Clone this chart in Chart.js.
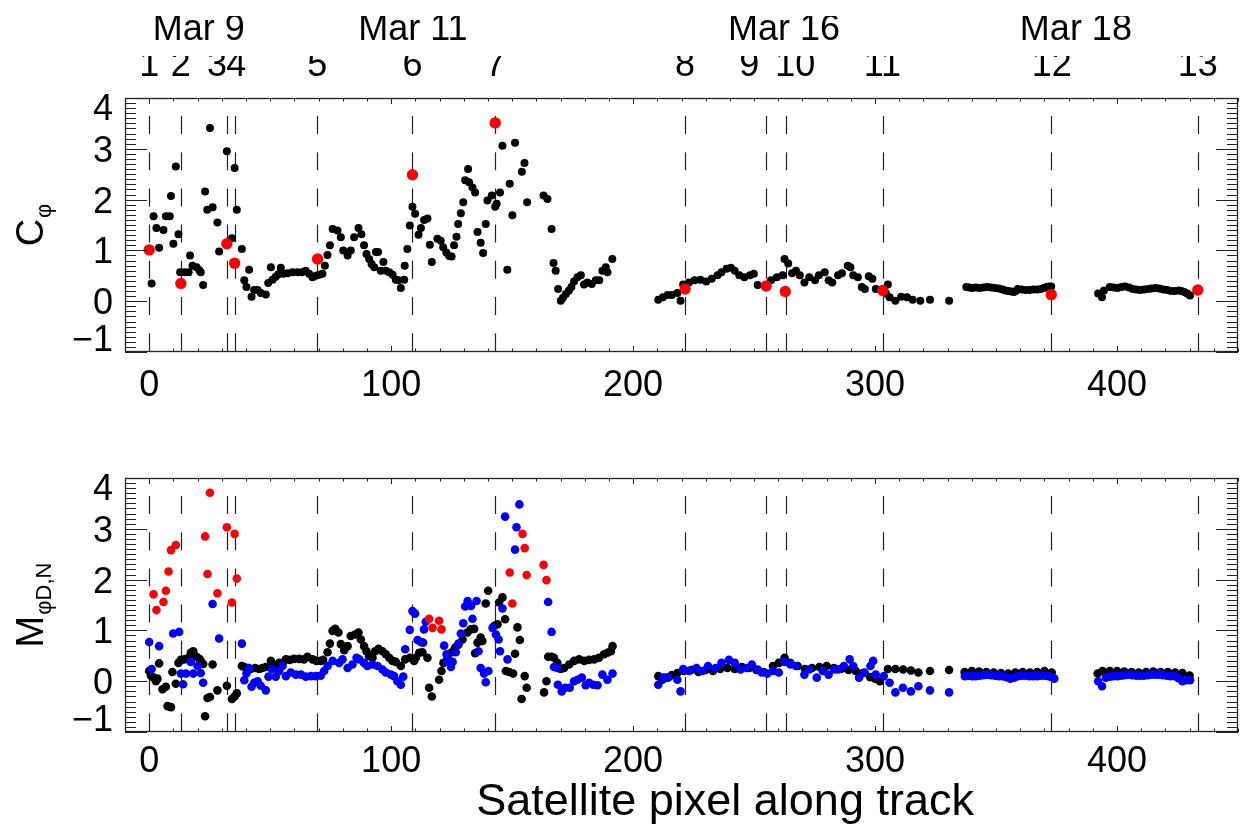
<!DOCTYPE html>
<html>
<head>
<meta charset="utf-8">
<script src="https://cdn.jsdelivr.net/npm/chart.js@4.4.1/dist/chart.umd.min.js"></script>
<style>
  html, body { margin: 0; padding: 0; background: #fff; }
  #wrap { position: relative; width: 1249px; height: 832px; }
  #topBox { position: absolute; left: 0; top: 0; width: 1249px; height: 415px; }
  #botBox { position: absolute; left: 0; top: 415px; width: 1249px; height: 417px; }
</style>
</head>
<body>
<div id="wrap">
  <div id="topBox"><canvas id="cphiChart"></canvas></div>
  <div id="botBox"><canvas id="mChart"></canvas></div>
</div>
<script>
// ---- datos ----
// eventos (lineas discontinuas) y sus etiquetas arriba
const eventX = [0, 13.1, 32.1, 35.3, 69.5, 108.8, 143, 221.5, 255, 263, 303.2, 372.8, 433.4];
const eventNames = ['1', '2', '3', '4', '5', '6', '7', '8', '9', '10', '11', '12', '13'];
const eventLabelX = [0, 13, 28, 36, 69.5, 108.8, 143, 221.5, 248, 267, 303, 373, 433.4];
const dayNames = ['Mar 9', 'Mar 11', 'Mar 16', 'Mar 18'];
const dayX = [20.5, 109, 262.4, 383];
const xTicks = [0, 100, 200, 300, 400];
const yTicks = [-1, 0, 1, 2, 3, 4];
const xTitle = 'Satellite pixel along track';

// panel superior: C_phi
const cphiBlack = [
  [1,0.35],[1.8,1.67],[3,1.44],[4.1,1.05],[5.9,1.40],[6.9,1.67],[8.5,1.67],[9,2.07],[10,1.13],[11,2.65],
  [12.1,1.32],[12.8,0.57],[14.5,0.57],[16.3,0.57],[16.9,0.9],[17.9,0.70],[19.6,0.67],[20.7,0.61],[21.3,0.57],[22.3,0.32],
  [23.1,2.16],[24,1.80],[25.1,3.41],[26.2,1.85],[28.2,1.55],[28.9,0.98],[32.1,2.95],[34.2,1.24],[35.3,2.62],[36.2,1.80],
  [38.3,1.03],[39.3,0.41],[40.2,0.28],[41.3,0.62],[42.3,0.09],[43.4,0.22],[44.8,0.22],[46.1,0.16],[48.2,0.13],[49.2,0.36],
  [50.3,0.67],[51,0.42],[52.3,0.48],[53.4,0.53],[54.4,0.66],[55.4,0.54],[57.2,0.55],[59.2,0.57],[61.3,0.57],[63.1,0.57],
  [64.7,0.60],[66.1,0.54],[67.5,0.47],[68.9,0.50],[70.2,0.52],[71.6,0.54],[72.6,0.70],[73.7,0.91],[74.7,1.10],[75.8,1.42],
  [77.8,1.39],[79.2,1.26],[80.2,1.0],[82,0.90],[83.3,1.0],[84.7,1.26],[86.5,1.44],[87.7,1.32],[88.8,1.10],[89.8,0.93],
  [90.9,0.83],[91.9,0.73],[93,0.67],[93.7,0.97],[94.6,0.97],[95.7,0.60],[96.8,0.77],[97.8,0.60],[99.2,0.57],[100.6,0.52],
  [101.9,0.42],[103,0.41],[104,0.26],[105.4,0.42],[105.6,0.70],[106.7,1.03],[107.7,1.49],[108.8,1.86],[109.9,1.72],[111.3,1.31],
  [112.3,1.44],[113.6,1.60],[115,1.63],[116,1.11],[116.8,0.77],[119.1,1.23],[120.5,1.19],[121.5,1.06],[122.8,0.96],[124,0.89],
  [125,0.88],[126,1.10],[127,1.27],[127.7,1.52],[128.8,1.73],[129.8,1.95],[130.6,2.38],[131.8,2.60],[132.2,2.34],[133.6,2.24],
  [134.7,2.14],[135.7,1.36],[137,1.15],[138,0.95],[139.1,1.52],[139.8,1.98],[141.6,2.08],[143,1.86],[143.6,1.92],[145,2.14],
  [146,3.06],[148,0.62],[149,2.31],[150.1,1.69],[151.2,3.12],[154,2.55],[155.1,2.72],[156.2,1.95],[163,2.08],[164.6,2.01],
  [166.3,1.42],[167.1,0.75],[168,0.60],[169,0.24],[170.1,0.01],[171,0.07],[172.2,0.14],[173.5,0.21],[174.5,0.28],[175.6,0.39],
  [177,0.47],[178.4,0.51],[179.7,0.33],[181.1,0.37],[182.9,0.34],[184.6,0.41],[186,0.41],[187.3,0.60],[188.7,0.67],[189.4,0.57],
  [191.4,0.83],[210.4,0.03],[212.3,0.08],[214.3,0.12],[216,0.12],[218.3,0.16],[219.6,0.01],[220.7,0.33],[223.1,0.37],[225.4,0.41],
  [227.8,0.42],[230.2,0.39],[232.5,0.44],[234.9,0.51],[236.5,0.57],[238.6,0.64],[240.4,0.66],[242,0.60],[243.9,0.51],[246,0.47],
  [248.3,0.51],[249.9,0.54],[251.5,0.32],[257,0.41],[259.4,0.47],[261.8,0.51],[262.6,0.83],[264.1,0.74],[265.7,0.55],[267.3,0.60],
  [268.9,0.51],[270.8,0.37],[272.8,0.47],[275.2,0.41],[276.8,0.51],[279.2,0.57],[280.8,0.41],[282.3,0.37],[284.7,0.51],[286.3,0.55],
  [288.7,0.70],[289.8,0.67],[291,0.51],[292.9,0.47],[294.5,0.28],[295.8,0.24],[297.4,0.49],[298.9,0.44],[300.3,0.24],[304.5,0.15],
  [305.3,0.33],[306,0.08],[308.4,0.01],[310.8,0.09],[313.2,0.08],[315.5,0.03],[318.7,0.01],[322.7,0.03],[330.6,0.01],
  [337.7,0.28],[338.9,0.27],[340.1,0.26],[341.6,0.27],[343.2,0.26],[344.8,0.27],[346.4,0.28],[348,0.27],[349.6,0.26],[351.2,0.25],
  [352.7,0.23],[353.9,0.21],[355.1,0.20],[356.3,0.19],[357.4,0.18],[358.2,0.2],[359,0.24],[360.6,0.23],[362.2,0.22],[363.8,0.22],
  [365.4,0.23],[367,0.23],[368.5,0.24],[369.7,0.26],[370.9,0.28],[371.8,0.29],[372.8,0.29],
  [392.2,0.15],[393.8,0.08],[394.6,0.21],[397,0.28],[398.6,0.27],[400.2,0.26],[401.8,0.28],[403.3,0.29],[404.9,0.27],[406.5,0.24],
  [408,0.23],[409.6,0.22],[411.2,0.23],[412.8,0.24],[414.3,0.25],[415.9,0.26],[417.5,0.25],[419.1,0.23],[420.7,0.22],[422.3,0.20],
  [423.9,0.2],[425.5,0.21],[426.6,0.2],[427.8,0.18],[429,0.15],[430.2,0.11]
];
const cphiRed = [
  [0,1.01],[13.1,0.35],[32.1,1.13],[35.3,0.75],[69.6,0.83],[108.8,2.49],[143,3.51],
  [221.5,0.24],[255,0.30],[262.9,0.19],[303.2,0.21],[372.8,0.13],[433.4,0.22]
];

// panel inferior: M_phiD,N
const mBlack = [
  [0,0.20],[0.7,0.11],[1.8,0.07],[2.8,0.0],[3.4,0.05],[4.1,0.35],[5.5,-0.16],[6.9,-0.11],[7.6,-0.49],[9,-0.51],
  [9.6,0.18],[11,-0.05],[12.1,0.36],[13.1,0.42],[14.5,0.43],[16.3,0.46],[17.2,0.56],[18.2,0.59],[19.3,0.49],[20.7,0.44],
  [21.3,0.40],[22.3,0.34],[23.1,-0.69],[24.1,-0.33],[25.1,-0.31],[26.2,0.33],[28.2,-0.18],[32.1,-0.09],[34.2,-0.35],[35.3,-0.30],
  [36.2,-0.24],[38.3,0.30],[39.3,0.28],[40.6,0.26],[42,0.24],[43.8,0.26],[45.5,0.24],[46.8,0.26],[48.2,0.28],[50.3,0.40],
  [52.3,0.31],[53.7,0.36],[55.1,0.36],[56.5,0.43],[58.1,0.42],[59.9,0.44],[62,0.44],[64,0.43],[65.4,0.48],[67.5,0.43],
  [69.1,0.40],[70.9,0.40],[71.9,0.42],[73.7,0.57],[74.7,0.74],[75.8,0.99],[76.9,1.03],[78.2,0.96],[79.2,0.73],[80.6,0.61],
  [82,0.69],[83.3,0.89],[85.1,0.92],[86.5,0.96],[87.5,0.82],[88.8,0.69],[89.8,0.59],[90.9,0.49],[92.3,0.46],[93.4,0.59],
  [94.8,0.64],[96.4,0.59],[97.8,0.53],[99.2,0.46],[100.6,0.40],[101.9,0.38],[104,0.30],[105.8,0.43],[107.7,0.46],[109.5,0.40],
  [110.2,0.46],[111.6,0.56],[112.9,0.57],[115,0.46],[115.7,-0.13],[116.8,-0.30],[119.8,0.03],[120.8,0.20],[121.6,0.36],[123.3,0.46],
  [125.1,0.57],[126.4,0.66],[127.8,0.72],[129.5,0.82],[131.5,0.96],[132.9,1.02],[134.3,1.03],[134.7,0.55],[135.7,0.76],[137,0.86],
  [137.7,0.79],[139.1,1.53],[140.1,1.78],[142.6,1.09],[144,1.12],[144.6,1.55],[146,1.65],[147.1,1.22],[147.4,0.20],[148.8,0.18],
  [150.4,0.15],[151.2,0.54],[152.2,1.06],[153.2,0.81],[153.9,-0.35],[155.2,0.10],[156,-0.13],[163.2,-0.22],[164.2,0.0],[164.9,0.48],
  [166.3,0.48],[167.3,0.46],[168.7,0.36],[170.1,0.24],[171.5,0.26],[173.6,0.33],[175.6,0.40],[177.7,0.43],[179.8,0.40],[181.8,0.42],
  [183.9,0.43],[185.9,0.46],[188,0.53],[189.4,0.56],[190.8,0.59],[191.5,0.69],[210.4,0.10],[212.1,0.03],[213.8,0.07],[216,0.12],
  [218.3,0.16],[221,0.20],[224,0.22],[227,0.18],[230,0.22],[233,0.2],[236,0.24],[239,0.26],[242,0.24],[245,0.28],
  [248,0.26],[251,0.22],[254,0.18],[257.8,0.30],[260.2,0.36],[262.6,0.46],[265,0.36],[268,0.3],[271,0.24],[274,0.26],
  [277,0.28],[280,0.3],[283,0.26],[286,0.24],[289,0.22],[292,0.2],[295,0.16],[298,0.08],[300,0.05],[302,0.0],
  [305.3,0.24],[308.4,0.24],[311.6,0.23],[314.8,0.21],[317.9,0.17],[322.7,0.20],[330.6,0.22],
  [337,0.18],[340,0.2],[343,0.19],[346,0.18],[349,0.17],[352,0.16],[355,0.15],[358,0.17],[361,0.18],[364,0.17],
  [367,0.18],[370,0.2],[373,0.17],
  [392,0.15],[394,0.2],[397,0.2],[400,0.2],[403,0.19],[406,0.18],[409,0.17],[412,0.18],[415,0.19],[418,0.18],
  [421,0.18],[424,0.17],[427,0.16],[430,0.11]
];
const mBlue = [
  [0,0.77],[1,0.24],[4.1,0.69],[9.9,0.94],[12.4,0.97],[13.1,0.15],[14,-0.06],[15.2,0.15],[17.2,0.38],[18.2,0.15],
  [20,0.30],[21.3,0.16],[22.3,-0.03],[26.2,1.52],[28.9,0.84],[38.3,0.74],[39.3,0.02],[40.2,0.15],[41.3,0.26],[42.3,-0.11],
  [43.4,-0.03],[44.8,0.0],[46.1,-0.09],[48.2,-0.18],[49.3,0.09],[50.7,0.24],[52.3,0.09],[53.7,0.20],[55.1,0.30],[56.5,0.10],
  [58.5,0.17],[60.6,0.13],[62.7,0.13],[64.7,0.09],[66.8,0.10],[68.9,0.10],[70.9,0.11],[72.3,0.20],[73.7,0.30],[75.8,0.40],
  [78.5,0.36],[79.9,0.43],[82,0.26],[84,0.33],[85.7,0.46],[86.8,0.43],[88.8,0.36],[90.2,0.30],[92.3,0.33],[94.4,0.30],
  [96.4,0.23],[97.8,0.17],[99.9,0.13],[101.2,0.10],[102.6,0.0],[104,-0.07],[105,0.09],[105.8,0.63],[107.7,1.01],[108.8,1.38],
  [109.9,1.33],[110.9,0.81],[112.3,0.77],[113.2,0.76],[113.6,1.02],[114.3,1.17],[121.9,0.70],[122.9,0.53],[123.3,0.38],[124.7,0.28],
  [125.4,0.38],[126.7,0.57],[127.8,0.74],[128.8,0.94],[129.8,1.14],[130.6,1.47],[131.6,1.58],[133,1.48],[133.6,1.23],[135.3,1.58],
  [136.1,0.59],[137,0.26],[138.4,0.15],[139.1,-0.02],[140.2,0.20],[141.9,1.05],[143.3,0.92],[144.4,0.82],[145,0.59],[146,1.43],
  [147.1,3.24],[148.1,0.43],[151.2,2.59],[151.8,3.03],[153,3.48],[164.9,1.56],[166.3,0.97],[167.3,0.28],[168.7,0.26],[168.9,-0.07],
  [170.5,-0.20],[171.9,-0.13],[173.8,-0.13],[175.6,0.0],[177,0.03],[178.8,0.07],[180.4,-0.08],[181.8,-0.03],[183.5,-0.07],[185.3,-0.08],
  [187.3,0.13],[189.4,0.03],[191.5,0.15],[210.4,-0.07],[212.5,0.07],[214.5,0.07],[218.3,0.03],[219.6,-0.20],[220.7,0.24],[223.1,0.20],
  [226.2,0.26],[228.6,0.20],[231,0.30],[234.1,0.26],[236.5,0.36],[239.6,0.42],[242,0.36],[244.4,0.23],[246.8,0.26],[249.1,0.33],
  [251.5,0.23],[253.1,0.17],[255.5,0.15],[257.8,0.20],[260.2,0.17],[262.6,0.38],[265,0.33],[267.3,0.30],[270.8,0.13],[272.8,0.23],
  [275.9,0.07],[278.4,0.20],[280.8,0.13],[283.2,0.23],[284.7,0.23],[287.1,0.30],[289.5,0.43],[291,0.30],[293.4,0.07],[295.7,0.17],
  [298.1,0.30],[299.2,0.40],[300.3,0.13],[303.6,0.10],[306,-0.03],[308.4,-0.22],[311.5,-0.13],[314.8,-0.20],[317.9,-0.10],[322.7,-0.18],
  [330.6,-0.22],
  [337.1,0.10],[338.6,0.11],[340.1,0.10],[341.6,0.1],[343.2,0.11],[344.8,0.12],[346.4,0.13],[348,0.12],[349.6,0.11],[351.2,0.1],
  [352.7,0.10],[354.3,0.08],[355.9,0.05],[357.5,0.07],[359,0.10],[360.6,0.11],[362.2,0.11],[363.8,0.1],[365.4,0.10],[367,0.1],
  [368.5,0.11],[370.1,0.11],[371.7,0.10],[373,0.08],[374.1,0.05],
  [392.2,0.0],[393.8,-0.10],[395.4,0.07],[397,0.09],[398.5,0.10],[400.1,0.1],[401.7,0.11],[403.2,0.12],[404.8,0.13],[406.4,0.12],
  [408,0.11],[409.5,0.11],[411.1,0.11],[412.7,0.12],[414.3,0.13],[415.9,0.13],[417.5,0.13],[419,0.12],[420.6,0.11],[422.2,0.1],
  [423.8,0.10],[425.4,0.06],[427,0.0],[428.6,0.02],[430.2,0.02]
];
const mRed = [
  [1.8,1.71],[3,1.40],[5.9,1.56],[6.9,1.78],[8,2.16],[9,2.58],[11,2.68],[23.1,2.85],[24.1,2.11],[25.1,3.71],
  [28.2,1.73],[32.1,3.03],[34.2,1.55],[35.3,2.90],[36.2,2.02],[115.7,1.23],[117.1,1.05],[119.8,1.19],[120.8,1.02],
  [149,2.14],[150.1,1.53],[154.3,2.90],[155.2,2.62],[156,2.09],[163,2.29],[164.2,1.99]
];

const FONT = '"Liberation Sans", Arial, Helvetica, sans-serif';
const toXY = pts => pts.map(p => ({ x: p[0], y: p[1] }));

// marco estilo IDL: borde, marcas hacia dentro, etiquetas Y, lineas de eventos y titulos
const panelDecor = {
  id: 'panelDecor',
  beforeDatasetsDraw(chart) {
    const { ctx, chartArea: a, scales: { x } } = chart;
    ctx.save();
    ctx.strokeStyle = '#222';
    ctx.lineWidth = 1.2;
    ctx.setLineDash([18, 18.2]);
    eventX.forEach(v => {
      const px = Math.round(x.getPixelForValue(v)) + 0.5;
      ctx.beginPath();
      ctx.moveTo(px, a.top + 18);
      ctx.lineTo(px, a.bottom);
      ctx.stroke();
    });
    ctx.restore();
  },
  afterDatasetsDraw(chart, args, opts) {
    const { ctx, chartArea: a, scales: { x, y } } = chart;
    ctx.save();
    ctx.strokeStyle = '#222';
    ctx.lineWidth = 1.3;
    ctx.strokeRect(a.left + 0.5, a.top + 0.5, a.right - a.left - 1, a.bottom - a.top - 1);
    ctx.lineWidth = 1;
    ctx.beginPath();
    for (let k = -1; k <= 45; k++) {
      const px = Math.round(x.getPixelForValue(k * 10)) + 0.5;
      const len = k % 10 === 0 ? 6 : 3.5;
      ctx.moveTo(px, a.top); ctx.lineTo(px, a.top + len);
      ctx.moveTo(px, a.bottom); ctx.lineTo(px, a.bottom - len);
    }
    for (let k = -10; k <= 40; k++) {
      const py = Math.round(y.getPixelForValue(k / 10)) + 0.5;
      const len = k % 10 === 0 ? 22 : 11;
      ctx.moveTo(a.left, py); ctx.lineTo(a.left + len, py);
      ctx.moveTo(a.right, py); ctx.lineTo(a.right - len, py);
    }
    ctx.stroke();

    // etiquetas del eje Y (como IDL: las extremas quedan dentro)
    ctx.fillStyle = '#000';
    ctx.font = '36px ' + FONT;
    ctx.textAlign = 'right';
    ctx.textBaseline = 'middle';
    yTicks.forEach(v => {
      let py = y.getPixelForValue(v) + 3;
      py = Math.min(Math.max(py, a.top + 12.5), a.bottom - 11);
      ctx.fillText(v < 0 ? '\u2212' + Math.abs(v) : String(v), a.left - 12, py);
    });

    // titulo X (solo panel inferior)
    if (opts.xTitle) {
      ctx.font = '45px ' + FONT;
      ctx.textAlign = 'center';
      ctx.fillText(opts.xTitle, x.getPixelForValue(238), a.bottom + 71);
    }

    // titulo Y con subindice
    const cy = (a.top + a.bottom) / 2;
    ctx.translate(0, cy);
    ctx.rotate(-Math.PI / 2);
    ctx.textAlign = 'left';
    ctx.textBaseline = 'alphabetic';
    ctx.font = '38px ' + FONT;
    const wMain = ctx.measureText(opts.main).width;
    ctx.font = '22px ' + FONT;
    const wSub = ctx.measureText(opts.sub).width;
    const x0 = -(wMain + wSub + 1) / 2;
    ctx.font = '38px ' + FONT;
    ctx.fillText(opts.main, x0, 43);
    ctx.font = '22px ' + FONT;
    ctx.fillText(opts.sub, x0 + wMain + 1, 51);
    ctx.restore();
  }
};

function baseScales(xHeight, withTop) {
  const scales = {
    x: {
      type: 'linear', position: 'bottom', min: -10, max: 450,
      afterBuildTicks: s => { s.ticks = xTicks.map(v => ({ value: v })); },
      afterFit: s => { s.height = xHeight; },
      grid: { display: false, drawTicks: false },
      border: { display: false },
      ticks: { font: { family: FONT, size: 36 }, color: '#000', padding: withTop ? 12 : 8, maxRotation: 0, autoSkip: false }
    },
    y: {
      type: 'linear', min: -1, max: 4,
      afterFit: s => { s.width = 125; },
      grid: { display: false, drawTicks: false },
      border: { display: false },
      ticks: { display: false }
    }
  };
  if (withTop) {
    scales.xNum = {
      type: 'linear', position: 'top', min: -10, max: 450, weight: 1,
      afterBuildTicks: s => { s.ticks = eventLabelX.map(v => ({ value: v })); },
      afterFit: s => { s.height = 42; },
      grid: { display: false, drawTicks: false },
      border: { display: false },
      ticks: { font: { family: FONT, size: 36 }, color: '#000', padding: 10, maxRotation: 0, autoSkip: false,
               callback: (v, i) => eventNames[i] }
    };
    scales.xMar = {
      type: 'linear', position: 'top', min: -10, max: 450, weight: 2,
      afterBuildTicks: s => { s.ticks = dayX.map(v => ({ value: v })); },
      afterFit: s => { s.height = 40; },
      grid: { display: false, drawTicks: false },
      border: { display: false },
      ticks: { font: { family: FONT, size: 36 }, color: '#000', padding: 4, maxRotation: 0, autoSkip: false,
               callback: (v, i) => dayNames[i] }
    };
  }
  return scales;
}

const common = {
  responsive: true,
  maintainAspectRatio: false,
  animation: false,
  devicePixelRatio: 1,
  events: []
};

// grafico superior
new Chart(document.getElementById('cphiChart').getContext('2d'), {
  type: 'scatter',
  data: {
    datasets: [
      { label: 'eventos', data: toXY(cphiRed), backgroundColor: '#ff0000', pointRadius: 5.7, pointBorderWidth: 0 },
      { label: 'C_phi', data: toXY(cphiBlack), backgroundColor: '#000000', pointRadius: 4, pointBorderWidth: 0 }
    ]
  },
  options: Object.assign({}, common, {
    layout: { padding: { left: 0, right: 11, top: 16, bottom: 0 } },
    scales: baseScales(63, true),
    plugins: { legend: { display: false }, tooltip: { enabled: false },
               panelDecor: { main: 'C', sub: '\u03c6' } }
  }),
  plugins: [panelDecor]
});

// grafico inferior
new Chart(document.getElementById('mChart').getContext('2d'), {
  type: 'scatter',
  data: {
    datasets: [
      { label: 'rojo', data: toXY(mRed), backgroundColor: '#ff0000', pointRadius: 4.3, pointBorderWidth: 0 },
      { label: 'azul', data: toXY(mBlue), backgroundColor: '#0000ff', pointRadius: 4.3, pointBorderWidth: 0 },
      { label: 'negro', data: toXY(mBlack), backgroundColor: '#000000', pointRadius: 4.3, pointBorderWidth: 0 }
    ]
  },
  options: Object.assign({}, common, {
    layout: { padding: { left: 0, right: 11, top: 63, bottom: 0 } },
    scales: baseScales(100, false),
    plugins: { legend: { display: false }, tooltip: { enabled: false },
               panelDecor: { main: 'M', sub: '\u03c6D,N', xTitle: xTitle } }
  }),
  plugins: [panelDecor]
});
</script>
</body>
</html>
